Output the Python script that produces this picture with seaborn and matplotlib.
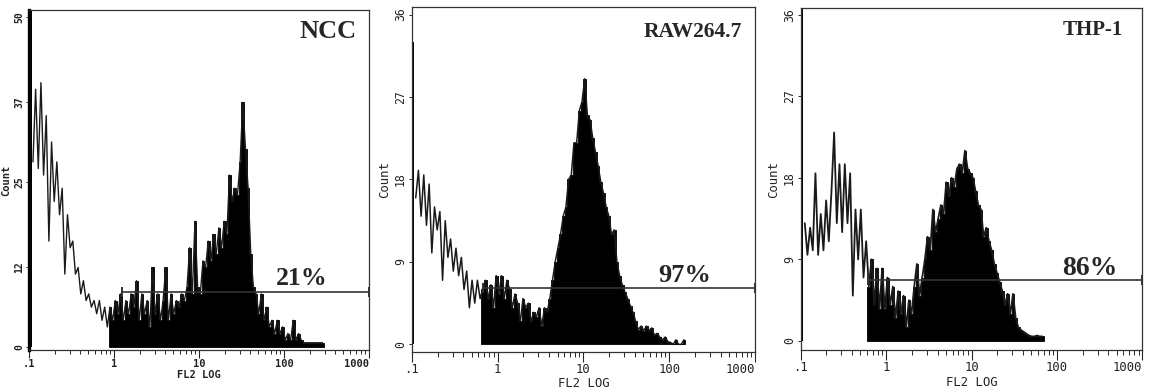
import numpy as np
import matplotlib
matplotlib.use('Agg')
import matplotlib.pyplot as plt
from matplotlib.ticker import NullFormatter
import seaborn as sns

# channel counts, 32 channels per decade starting at 0.1
bins_per_decade = 32
log_start = -1

panel_names = ['NCC', 'RAW264.7', 'THP-1']
percent_labels = ['21%', '97%', '86%']

ncc_counts = [60, 28, 39, 27, 40, 26, 35, 16, 31, 22, 28, 20, 24, 11, 20, 15, 16, 11, 12, 8,
              10, 7, 8, 6, 7, 5, 7, 4, 6, 3, 6, 4, 7, 5, 8, 4, 7, 5, 8, 6,
              10, 4, 8, 5, 7, 3, 12, 5, 8, 4, 7, 12, 4, 8, 5, 7, 6, 8, 7, 9,
              15, 8, 19, 9, 8, 13, 12, 16, 13, 17, 14, 18, 15, 19, 17, 26, 22, 24, 23, 28,
              37, 30, 24, 14, 9, 8, 5, 8, 4, 6, 3, 4, 2, 4, 2, 3, 1, 2, 1, 4,
              1, 2, 1, 0.6, 0.6, 0.6, 0.6, 0.6, 0.6, 0.6, 0.6]

raw_counts = [33, 16, 19, 14, 18.5, 13, 17.5, 10, 15, 12.5, 14.5, 7, 13.5, 9.5, 11.5, 8, 10.5, 7.5, 9.5, 6,
              8, 4, 7, 4.5, 7, 5, 6, 7, 5, 6.5, 4, 7.5, 5.5, 7.5, 5, 7,
              6, 4, 5.5, 4.5, 2.5, 5, 4, 4.5, 2.5, 3.5, 3, 4, 2, 4, 3.5, 5,
              7, 9, 10.5, 12, 14, 15, 18, 18.5, 22, 22, 25.5, 26.5, 29, 25, 24.5, 22.5, 21, 19.5,
              17.7, 16.5, 15, 14, 12, 12.5, 9, 7.5, 6.5, 5.7, 5, 4.2, 3.5, 2.5, 1.6, 2, 1.5, 2,
              1.5, 1.8, 1, 1.2, 0.8, 0.5, 0.8, 0.3, 0.2, 0, 0.5, 0, 0, 0.5]

thp_counts = [45, 13, 9.5, 12.5, 10, 18.5, 9.5, 14, 10, 15.5, 11, 16.5, 23, 13, 19.5, 12, 19.5, 13, 18.5, 5,
              14.5, 9, 14.5, 7, 11, 6, 9, 4, 8, 3.5, 8, 3.5, 7, 4, 6, 2.5, 5.5, 3, 5, 1.5,
              4.5, 3, 6, 8.5, 5, 7, 9, 11.5, 10, 14.5, 12, 13.5, 15, 14, 17.5, 16, 18, 17, 19, 19.5,
              18.5, 21, 19, 18.5, 18, 16.5, 15, 14.5, 11.5, 12.5, 11, 10, 8.5, 7.5, 6.5, 5.5, 4, 5.2, 3, 5.2,
              2.5, 1.5, 1.2, 1, 0.8, 0.6, 0.5, 0.5, 0.6, 0.5, 0.5]

fill_from = [30, 26, 25]          # first channel drawn solid black
gate_start = [1.23, 0.68, 0.61]   # marker region start (FL2)
gate_level = [8.3, 6.1, 6.7]      # marker height (count)

y_ticks = [[0, 12, 25, 37, 50], [0, 9, 18, 27, 36], [0, 9, 18, 27, 36]]
x_ticks = [0.1, 1, 10, 100, 1000]
x_tick_labels = ['.1', '1', '10', '100', '1000']

sns.set_style('ticks')
plt.rcParams['font.family'] = ['DejaVu Sans Mono']

fig = plt.figure(figsize=(11.49, 3.92), dpi=100)
rects = [[0.0252, 0.1071, 0.2959, 0.8673],
         [0.3583, 0.1028, 0.2988, 0.8786],
         [0.6969, 0.1071, 0.2974, 0.8717]]
ylims = [(-0.5, 51), (-0.8, 36.8), (-1.0, 36.7)]
title_pos = [(0.965, 0.918), (0.962, 0.914), (0.943, 0.922)]
title_size = [19, 15.5, 15]
pct_pos = [(0.803, 0.191), (0.795, 0.202), (0.846, 0.219)]
pct_size = [18.5, 19, 20]
label_size = [7.5, 8.8, 8.8]
trace_width = [1.0, 1.1, 1.3]

all_counts = [ncc_counts, raw_counts, thp_counts]
step = 1 / bins_per_decade

for k in range(3):
    ax = fig.add_axes(rects[k])
    counts = np.array(all_counts[k], dtype=float)
    n = len(counts)
    centers = 10 ** (log_start + (np.arange(n) + 0.5) * step)
    hi = log_start + n * step

    # first channel is off scale
    sns.histplot(x=centers[:1], weights=counts[:1], bins=1,
                 binrange=(log_start, log_start + step), log_scale=True,
                 element='bars', fill=True, color='black', alpha=1, linewidth=0, ax=ax)
    # outline of whole histogram (noisy trace)
    sns.histplot(x=centers[1:], weights=counts[1:], bins=n - 1, binrange=(log_start + step, hi),
                 log_scale=True, element='poly', fill=False, color='#1a1a1a',
                 linewidth=trace_width[k], ax=ax)
    # gated part solid
    f = fill_from[k]
    sns.histplot(x=centers[f:], weights=counts[f:], bins=n - f,
                 binrange=(log_start + f * step, hi),
                 log_scale=True, element='step', fill=True, color='black',
                 alpha=1, linewidth=0.6, ax=ax)

    # marker bar
    ax.plot([gate_start[k], 1000], [gate_level[k], gate_level[k]], color='#333333',
            lw=1.2, marker='|', ms=7, mew=1.4, clip_on=False)

    ax.set_xlim(0.1, 1000)
    ax.set_ylim(*ylims[k])
    ax.set_xticks(x_ticks, x_tick_labels)
    ax.xaxis.set_minor_formatter(NullFormatter())
    ax.set_yticks(y_ticks[k], [str(v) for v in y_ticks[k]])

    bold = 'bold' if k == 0 else 'normal'
    big = 5.5 if k == 0 else 7
    ax.tick_params(axis='x', which='major', length=big, width=0.8, pad=1,
                   labelsize=label_size[k])
    ax.tick_params(axis='x', which='minor', length=big * 0.55, width=0.7)
    ax.tick_params(axis='y', which='major', length=2.5, width=0.7, pad=1,
                   labelsize=label_size[k] - 0.5, labelrotation=90)
    for lab in ax.get_xticklabels() + ax.get_yticklabels():
        lab.set_fontweight(bold)
        lab.set_color('#222222')
    for lab in ax.get_yticklabels():
        lab.set_va('center')
    ax.get_xticklabels()[-1].set_ha('right')

    ax.set_xlabel('FL2 LOG', fontsize=label_size[k], fontweight=bold, labelpad=1, color='#222222')
    ax.set_ylabel('Count', fontsize=label_size[k], fontweight=bold, labelpad=2, color='#222222')

    for side in ['top', 'right', 'bottom', 'left']:
        ax.spines[side].set_color('#333333')
        ax.spines[side].set_linewidth(0.9)
    if k == 0:
        ax.spines['left'].set_color('black')
        ax.spines['left'].set_linewidth(2.4)

    ax.text(title_pos[k][0], title_pos[k][1], panel_names[k], transform=ax.transAxes,
            ha='right', va='baseline', fontsize=title_size[k], fontweight='bold',
            family='Liberation Serif')
    ax.text(pct_pos[k][0], pct_pos[k][1], percent_labels[k], transform=ax.transAxes,
            ha='center', va='baseline', fontsize=pct_size[k], fontweight='bold',
            family='Liberation Serif')

fig.savefig('out.png', dpi=100)
